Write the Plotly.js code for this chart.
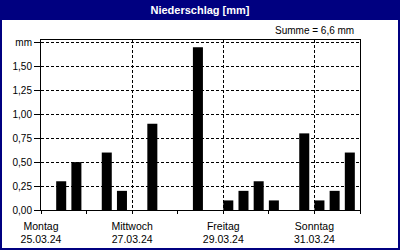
<!DOCTYPE html>
<html>
<head>
<meta charset="utf-8">
<script src="https://cdn.plot.ly/plotly-3.0.1.min.js"></script>
<style>
  html, body { margin: 0; padding: 0; background: #ffffff; }
  #chart { width: 400px; height: 250px; }
</style>
</head>
<body>
<div id="chart"></div>
<script>
// Start of each 8-hour interval with precipitation
const times = [
  '2024-03-25 08:00', '2024-03-25 16:00',
  '2024-03-26 08:00', '2024-03-26 16:00',
  '2024-03-27 08:00',
  '2024-03-28 08:00',
  '2024-03-29 00:00', '2024-03-29 08:00', '2024-03-29 16:00',
  '2024-03-30 00:00', '2024-03-30 16:00',
  '2024-03-31 00:00', '2024-03-31 08:00', '2024-03-31 16:00'
];
const precip = [0.3, 0.5, 0.6, 0.2, 0.9, 1.7, 0.1, 0.2, 0.3, 0.1, 0.8, 0.1, 0.2, 0.6];

const xTickVals = ['2024-03-25', '2024-03-27', '2024-03-29', '2024-03-31'];
const xTickText = ['Montag<br>25.03.24', 'Mittwoch<br>27.03.24', 'Freitag<br>29.03.24', 'Sonntag<br>31.03.24'];
const yTickVals = [0, 0.25, 0.5, 0.75, 1.0, 1.25, 1.5, 1.75];
const yTickText = ['0,00', '0,25', '0,50', '0,75', '1,00', '1,25', '1,50', 'mm'];

const total = precip.reduce((a, b) => a + b, 0);
const totalText = 'Summe = ' + total.toFixed(1).replace('.', ',') + ' mm';

const W = 400, H = 250, ML = 41, MR = 40, MT = 40, MB = 40;
const pw = W - ML - MR, ph = H - MT - MB;
const px = x => (x - ML) / pw;
const py = y => (H - MB - y) / ph;

const font = { family: 'Liberation Sans, Arial, sans-serif', size: 10, color: '#000000' };
const xfont = { family: 'Liberation Sans, Arial, sans-serif', size: 10.5, color: '#000000' };

const trace = {
  type: 'bar',
  x: times,
  y: precip,
  width: 19000000,
  offset: 0,
  marker: { color: '#000000', line: { width: 0 } },
  hoverinfo: 'skip'
};

const layout = {
  width: W, height: H,
  margin: { l: ML, r: MR, t: MT, b: MB, pad: 0 },
  paper_bgcolor: '#ffffff',
  plot_bgcolor: '#ffffff',
  font: font,
  showlegend: false,
  title: {
    text: '<b>Niederschlag [mm]</b>',
    font: { family: 'Liberation Sans, Arial, sans-serif', size: 11, color: '#ffffff' },
    x: 0.5, xanchor: 'center', xref: 'container',
    y: 1 - 10 / H, yanchor: 'middle', yref: 'container'
  },
  xaxis: {
    type: 'date',
    range: ['2024-03-25 00:00', '2024-04-01 00:00'],
    tickmode: 'array',
    tickvals: xTickVals,
    ticktext: xTickText,
    ticks: 'outside', ticklen: 3, tickcolor: '#000000', tickwidth: 1,
    ticklabelstandoff: 3,
    minor: { dtick: 86400000, tick0: '2024-03-25', ticks: 'outside', ticklen: 3, tickcolor: '#000000', showgrid: false },
    showgrid: true, gridcolor: '#000000', gridwidth: 1, griddash: '3px,2px',
    showline: true, linecolor: '#000000', linewidth: 1, mirror: true,
    zeroline: false,
    tickfont: xfont,
    fixedrange: true
  },
  yaxis: {
    range: [0, 1.775],
    tickmode: 'array',
    tickvals: yTickVals,
    ticktext: yTickText,
    ticks: 'outside', ticklen: 6, tickcolor: '#000000', tickwidth: 1,
    showgrid: true, gridcolor: '#000000', gridwidth: 1, griddash: '3px,2px',
    showline: true, linecolor: '#000000', linewidth: 1, mirror: true,
    zeroline: false,
    tickfont: font,
    fixedrange: true
  },
  annotations: [{
    text: totalText,
    xref: 'paper', yref: 'paper',
    x: 1, y: py(31),
    xanchor: 'right', yanchor: 'middle',
    xshift: -4,
    showarrow: false,
    font: font
  }],
  shapes: [
    { type: 'rect', xref: 'paper', yref: 'paper', layer: 'below',
      x0: px(0), x1: px(W), y0: py(20), y1: py(0),
      fillcolor: '#000080', line: { width: 0 } },
    { type: 'rect', xref: 'paper', yref: 'paper', layer: 'above',
      x0: px(1), x1: px(W - 1), y0: py(H - 1), y1: py(1),
      fillcolor: 'rgba(0,0,0,0)', line: { color: '#000080', width: 2 } }
  ]
};

Plotly.newPlot('chart', [trace], layout, { staticPlot: true, displayModeBar: false });
</script>
</body>
</html>
